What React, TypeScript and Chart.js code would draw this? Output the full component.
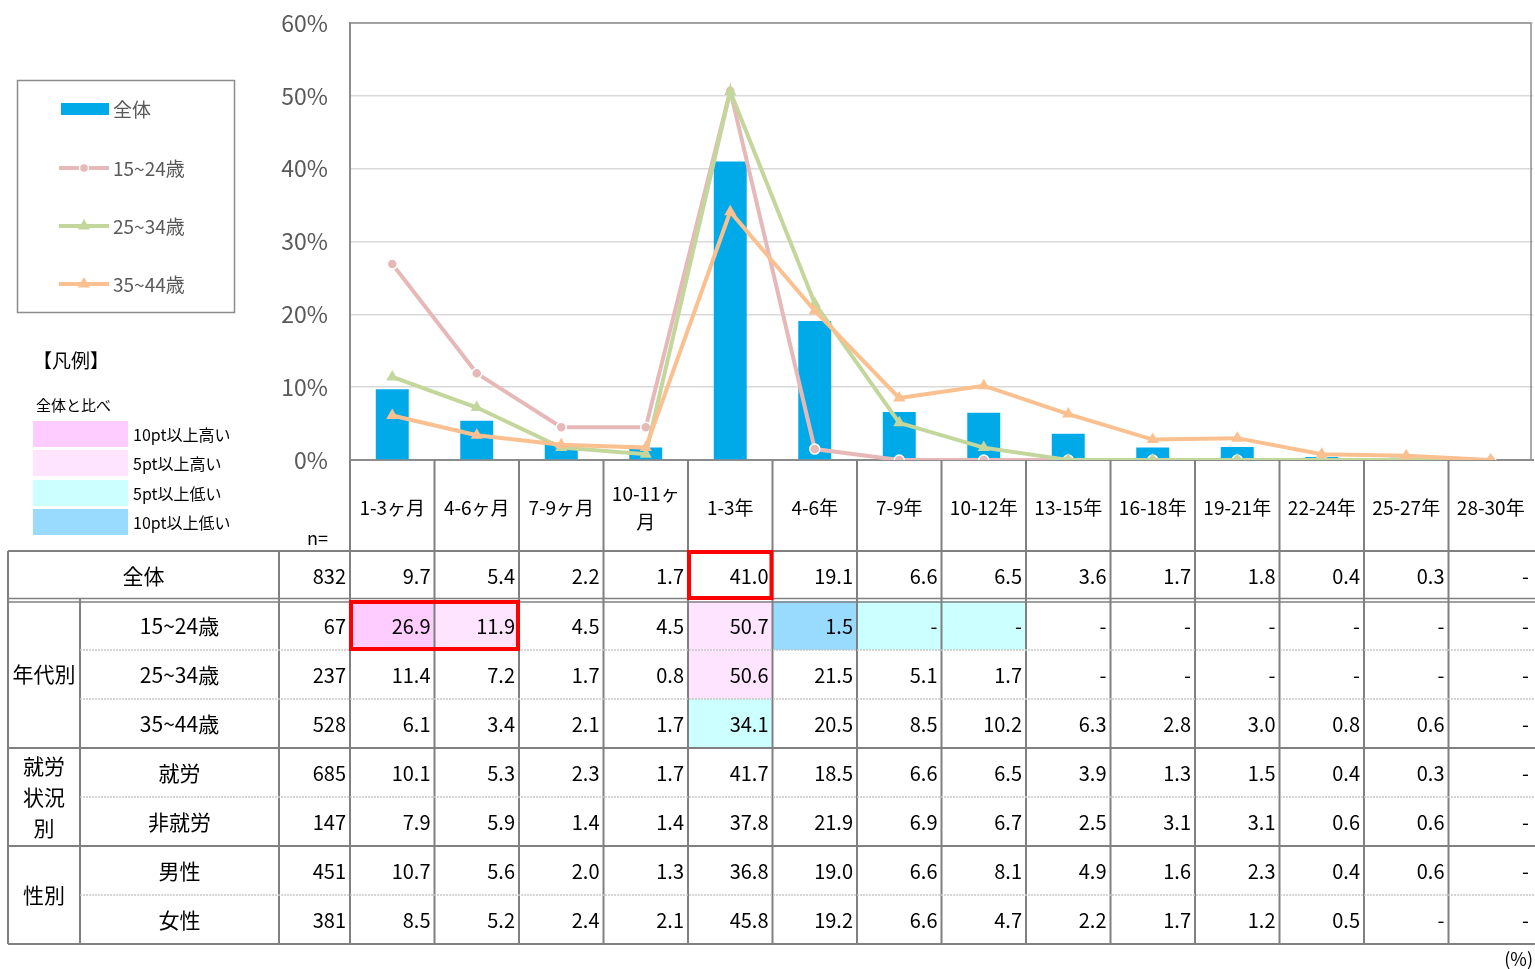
import React, { useEffect, useRef } from 'react';
import { Chart, registerables } from 'chart.js';

Chart.register(...registerables);

// ---------------- data ----------------
const categories = ['1-3ヶ月', '4-6ヶ月', '7-9ヶ月', '10-11ヶ月', '1-3年', '4-6年', '7-9年', '10-12年', '13-15年', '16-18年', '19-21年', '22-24年', '25-27年', '28-30年'];
const categoryLines = [['1-3ヶ月'], ['4-6ヶ月'], ['7-9ヶ月'], ['10-11ヶ', '月'], ['1-3年'], ['4-6年'], ['7-9年'], ['10-12年'], ['13-15年'], ['16-18年'], ['19-21年'], ['22-24年'], ['25-27年'], ['28-30年']];

const seriesNames = ['全体', '15~24歳', '25~34歳', '35~44歳'];

const totalValues = [9.7, 5.4, 2.2, 1.7, 41.0, 19.1, 6.6, 6.5, 3.6, 1.7, 1.8, 0.4, 0.3, null];
const age15to24 = [26.9, 11.9, 4.5, 4.5, 50.7, 1.5, null, null, null, null, null, null, null, null];
const age25to34 = [11.4, 7.2, 1.7, 0.8, 50.6, 21.5, 5.1, 1.7, null, null, null, null, null, null];
const age35to44 = [6.1, 3.4, 2.1, 1.7, 34.1, 20.5, 8.5, 10.2, 6.3, 2.8, 3.0, 0.8, 0.6, null];
const employed = [10.1, 5.3, 2.3, 1.7, 41.7, 18.5, 6.6, 6.5, 3.9, 1.3, 1.5, 0.4, 0.3, null];
const notEmployed = [7.9, 5.9, 1.4, 1.4, 37.8, 21.9, 6.9, 6.7, 2.5, 3.1, 3.1, 0.6, 0.6, null];
const male = [10.7, 5.6, 2.0, 1.3, 36.8, 19.0, 6.6, 8.1, 4.9, 1.6, 2.3, 0.4, 0.6, null];
const female = [8.5, 5.2, 2.4, 2.1, 45.8, 19.2, 6.6, 4.7, 2.2, 1.7, 1.2, 0.5, null, null];

const rowLabels = ['全体', '15~24歳', '25~34歳', '35~44歳', '就労', '非就労', '男性', '女性'];
const rowCounts = [832, 67, 237, 528, 685, 147, 451, 381];
const rowValues = [totalValues, age15to24, age25to34, age35to44, employed, notEmployed, male, female];

const groupLabels = [['年代別'], ['就労', '状況', '別'], ['性別']];
const groupRanges = [[1, 3], [4, 5], [6, 7]];

const yMax = 60;
const yStep = 10;

const legendTitle = '【凡例】';
const legendSubtitle = '全体と比べ';
const shadeLabels = ['10pt以上高い', '5pt以上高い', '5pt以上低い', '10pt以上低い'];
const shadeColors = ['#ffccff', '#ffe4ff', '#ccffff', '#99dbff'];

// emphasised cells: [row, firstCol, span]
const boxedCells = [[1, 0, 2], [0, 4, 1]];

// ---------------- style ----------------
const FONT = '"Noto Sans CJK JP", "Noto Sans", sans-serif';
const BAR_COLOR = '#00aae9';
const LINE_COLORS = ['#e6b9b8', '#c3d69b', '#fac090'];
const RULE = '#808080';
const PAGE_W = 1535;
const CANVAS_W = 1540;
const PAGE_H = 969;

function shadeFor(diff: number): string | null {
  if (diff >= 10) return shadeColors[0];
  if (diff >= 5) return shadeColors[1];
  if (diff <= -10) return shadeColors[3];
  if (diff <= -5) return shadeColors[2];
  return null;
}

const tablePlugin = {
  id: 'tablePlugin',
  beforeDraw(chart: any) {
    const ctx = chart.ctx;
    ctx.save();
    ctx.fillStyle = '#ffffff';
    ctx.fillRect(0, 0, chart.width, chart.height);
    ctx.restore();
  },
  afterDraw(chart: any) {
    const ctx: CanvasRenderingContext2D = chart.ctx;
    const a = chart.chartArea;
    const xs = chart.scales.x;
    const nCat = categories.length;
    const colW = (a.right - a.left) / nCat;
    const cl = (i: number) => xs.getPixelForValue(i) - colW / 2;
    const cr = (i: number) => xs.getPixelForValue(i) + colW / 2;

    const X0 = 8, X1 = 80, X2 = 279, X3 = a.left;
    const XR = chart.width;
    const PLOT_RIGHT = Math.min(a.right, PAGE_W) - 2;
    const TOP = 551, TOTAL_BOTTOM = 599, ROWS_TOP = 601, ROW_H = 49;
    const rowTop = (r: number) => (r === 0 ? TOP : ROWS_TOP + (r - 1) * ROW_H);
    const rowBottom = (r: number) => (r === 0 ? TOTAL_BOTTOM : ROWS_TOP + r * ROW_H);
    const BOTTOM = rowBottom(rowLabels.length - 1);

    const text = (s: string, x: number, y: number, size: number, color: string, align: CanvasTextAlign = 'center') => {
      ctx.font = `${size}px ${FONT}`;
      ctx.fillStyle = color;
      ctx.textAlign = align;
      ctx.textBaseline = 'middle';
      ctx.fillText(s, x, y);
    };
    const line = (x1: number, y1: number, x2: number, y2: number, color: string, w: number, dash: number[] = []) => {
      ctx.beginPath();
      ctx.setLineDash(dash);
      ctx.strokeStyle = color;
      ctx.lineWidth = w;
      ctx.moveTo(x1, y1);
      ctx.lineTo(x2, y2);
      ctx.stroke();
      ctx.setLineDash([]);
    };

    ctx.save();

    // cell shading
    for (let r = 1; r < rowValues.length; r++) {
      for (let c = 0; c < nCat; c++) {
        const v = rowValues[r][c] ?? 0;
        const base = totalValues[c] ?? 0;
        const shade = shadeFor(v - base);
        if (shade) {
          ctx.fillStyle = shade;
          ctx.fillRect(cl(c), rowTop(r), colW, rowBottom(r) - rowTop(r));
        }
      }
    }

    // category label band
    const bandMid = (a.bottom + TOP) / 2 + 2;
    categoryLines.forEach((lines, i) => {
      const cx = xs.getPixelForValue(i);
      const lh = 28;
      lines.forEach((s, k) => {
        text(s, cx, bandMid + (k - (lines.length - 1) / 2) * lh, 19, '#000');
      });
    });
    text('n=', X3 - 22, 538, 18, '#000', 'right');

    // vertical rules
    line(X0, TOP, X0, BOTTOM, RULE, 2);
    line(X1, TOTAL_BOTTOM, X1, BOTTOM, RULE, 2);
    line(X2, TOP, X2, BOTTOM, RULE, 2);
    line(X3, a.bottom, X3, BOTTOM, RULE, 2);
    for (let i = 0; i < nCat - 1; i++) line(cr(i), a.bottom, cr(i), BOTTOM, RULE, 2);

    // horizontal rules
    line(X0, TOP, XR, TOP, RULE, 2);
    line(X0, TOTAL_BOTTOM - 0.5, XR, TOTAL_BOTTOM - 0.5, RULE, 1.5);
    line(X0, ROWS_TOP + 1, XR, ROWS_TOP + 1, RULE, 1.5);
    for (let r = 1; r < rowLabels.length - 1; r++) {
      const y = rowBottom(r);
      const isGroupEnd = groupRanges.some((g) => g[1] === r);
      if (isGroupEnd) line(X0, y, XR, y, RULE, 2);
      else line(X1, y, XR, y, '#c8c8c8', 1.5, [2, 1]);
    }
    line(X0, BOTTOM, XR, BOTTOM, RULE, 2);

    // plot border (top, right)
    line(a.left, a.top, PLOT_RIGHT, a.top, '#8c8c8c', 1.5);
    line(PLOT_RIGHT, a.top, PLOT_RIGHT, a.bottom, '#8c8c8c', 1.5);

    // table text
    for (let r = 0; r < rowLabels.length; r++) {
      const cy = (rowTop(r) + rowBottom(r)) / 2 + 1;
      if (r === 0) text(rowLabels[r], (X0 + X2) / 2, cy, 21, '#000');
      else text(rowLabels[r], (X1 + X2) / 2, cy, 21, '#000');
      text(String(rowCounts[r]), X3 - 4, cy, 20, '#000', 'right');
      for (let c = 0; c < nCat; c++) {
        const v = rowValues[r][c];
        const rx = Math.min(cr(c), PAGE_W) - 4;
        text(v == null ? '-' : v.toFixed(1), rx, cy, 20, '#000', 'right');
      }
    }
    groupLabels.forEach((lines, g) => {
      const [r0, r1] = groupRanges[g];
      const cy = (rowTop(r0) + rowBottom(r1)) / 2;
      const lh = 31;
      lines.forEach((s, k) => text(s, (X0 + X1) / 2, cy + (k - (lines.length - 1) / 2) * lh, 21, '#000'));
    });

    // emphasised boxes
    boxedCells.forEach(([r, c, span]) => {
      const x0 = cl(c), x1 = cr(c + span - 1);
      const y0 = rowTop(r), y1 = rowBottom(r);
      ctx.strokeStyle = '#ff0000';
      ctx.lineWidth = 4;
      ctx.strokeRect(x0 + 1, y0 + 1, x1 - x0 - 2, y1 - y0 - 2);
    });

    // series legend box
    ctx.strokeStyle = '#8c8c8c';
    ctx.lineWidth = 1.5;
    ctx.strokeRect(17.5, 80.5, 217, 232);
    const ds = chart.data.datasets;
    const legendY = [109, 168, 226, 284];
    ds.forEach((d: any, i: number) => {
      const y = legendY[i];
      if (d.type === 'bar') {
        ctx.fillStyle = d.backgroundColor;
        ctx.fillRect(61, y - 6, 48, 12);
      } else {
        line(59, y, 109, y, d.borderColor, 4);
        ctx.beginPath();
        if (d.pointStyle === 'circle') {
          ctx.arc(84, y, 4.5, 0, Math.PI * 2);
          ctx.fillStyle = d.borderColor;
          ctx.fill();
          ctx.strokeStyle = '#fff';
          ctx.lineWidth = 1.5;
          ctx.stroke();
        } else {
          const rr = 7;
          ctx.moveTo(84, y - rr);
          ctx.lineTo(84 + rr * 0.866, y + rr / 2);
          ctx.lineTo(84 - rr * 0.866, y + rr / 2);
          ctx.closePath();
          ctx.fillStyle = d.borderColor;
          ctx.fill();
        }
      }
      text(d.label, 113, y + 1, 19, '#595959', 'left');
    });

    // shading legend
    text(legendTitle, 33, 361, 19, '#000', 'left');
    text(legendSubtitle, 36, 405, 15, '#000', 'left');
    const swY = [421, 450, 480, 509];
    shadeLabels.forEach((s, i) => {
      ctx.fillStyle = shadeColors[i];
      ctx.fillRect(33, swY[i], 95, 26);
      text(s, 133, swY[i] + 14, 16, '#000', 'left');
    });

    text('(%)', PAGE_W - 2, 959, 18, '#000', 'right');

    ctx.restore();
  },
};

export default function App() {
  const ref = useRef<HTMLCanvasElement | null>(null);

  useEffect(() => {
    if (!ref.current) return;
    const lineDs = (i: number, values: (number | null)[], style: string, radius: number, order: number) => ({
      type: 'line' as const,
      label: seriesNames[i],
      data: values.map((v) => v ?? 0),
      borderColor: LINE_COLORS[i - 1],
      backgroundColor: LINE_COLORS[i - 1],
      borderWidth: 4,
      pointStyle: style,
      pointRadius: radius,
      pointBackgroundColor: LINE_COLORS[i - 1],
      pointBorderColor: style === 'circle' ? '#ffffff' : LINE_COLORS[i - 1],
      pointBorderWidth: style === 'circle' ? 1.5 : 0,
      tension: 0,
      order,
    });

    const chart = new Chart(ref.current, {
      type: 'bar',
      data: {
        labels: categories,
        datasets: [
          {
            type: 'bar',
            label: seriesNames[0],
            data: totalValues,
            backgroundColor: BAR_COLOR,
            barPercentage: 0.39,
            categoryPercentage: 1,
            order: 4,
          } as any,
          lineDs(1, age15to24, 'circle', 5, 3),
          lineDs(2, age25to34, 'triangle', 7, 2),
          lineDs(3, age35to44, 'triangle', 7, 1),
        ],
      },
      options: {
        responsive: false,
        animation: false,
        layout: { padding: { left: 0, right: CANVAS_W - 1538, top: 23, bottom: PAGE_H - 551 } },
        plugins: { legend: { display: false }, tooltip: { enabled: false } },
        scales: {
          x: {
            grid: { display: false, drawTicks: false },
            border: { display: true, color: '#8c8c8c', width: 2 },
            ticks: { display: false },
            afterFit: (s: any) => {
              s.height = 91;
              s.paddingLeft = 0;
              s.paddingRight = 0;
            },
          },
          y: {
            min: 0,
            max: yMax,
            ticks: {
              stepSize: yStep,
              callback: (v: any) => `${v}%`,
              font: { family: FONT, size: 23 },
              color: '#595959',
              padding: 22,
            },
            grid: { color: '#d9d9d9', lineWidth: 1.5, drawTicks: false },
            border: { display: true, color: '#8c8c8c', width: 2 },
            afterFit: (s: any) => {
              s.width = 350;
              s.paddingTop = 0;
              s.paddingBottom = 0;
            },
          },
        },
      } as any,
      plugins: [tablePlugin],
    });
    return () => chart.destroy();
  }, []);

  return (
    <div style={{ position: 'absolute', left: 0, top: 0, width: PAGE_W, height: PAGE_H, overflow: 'hidden', background: '#fff' }}>
      <canvas ref={ref} width={CANVAS_W} height={PAGE_H} style={{ display: 'block', width: CANVAS_W, height: PAGE_H }} />
    </div>
  );
}
